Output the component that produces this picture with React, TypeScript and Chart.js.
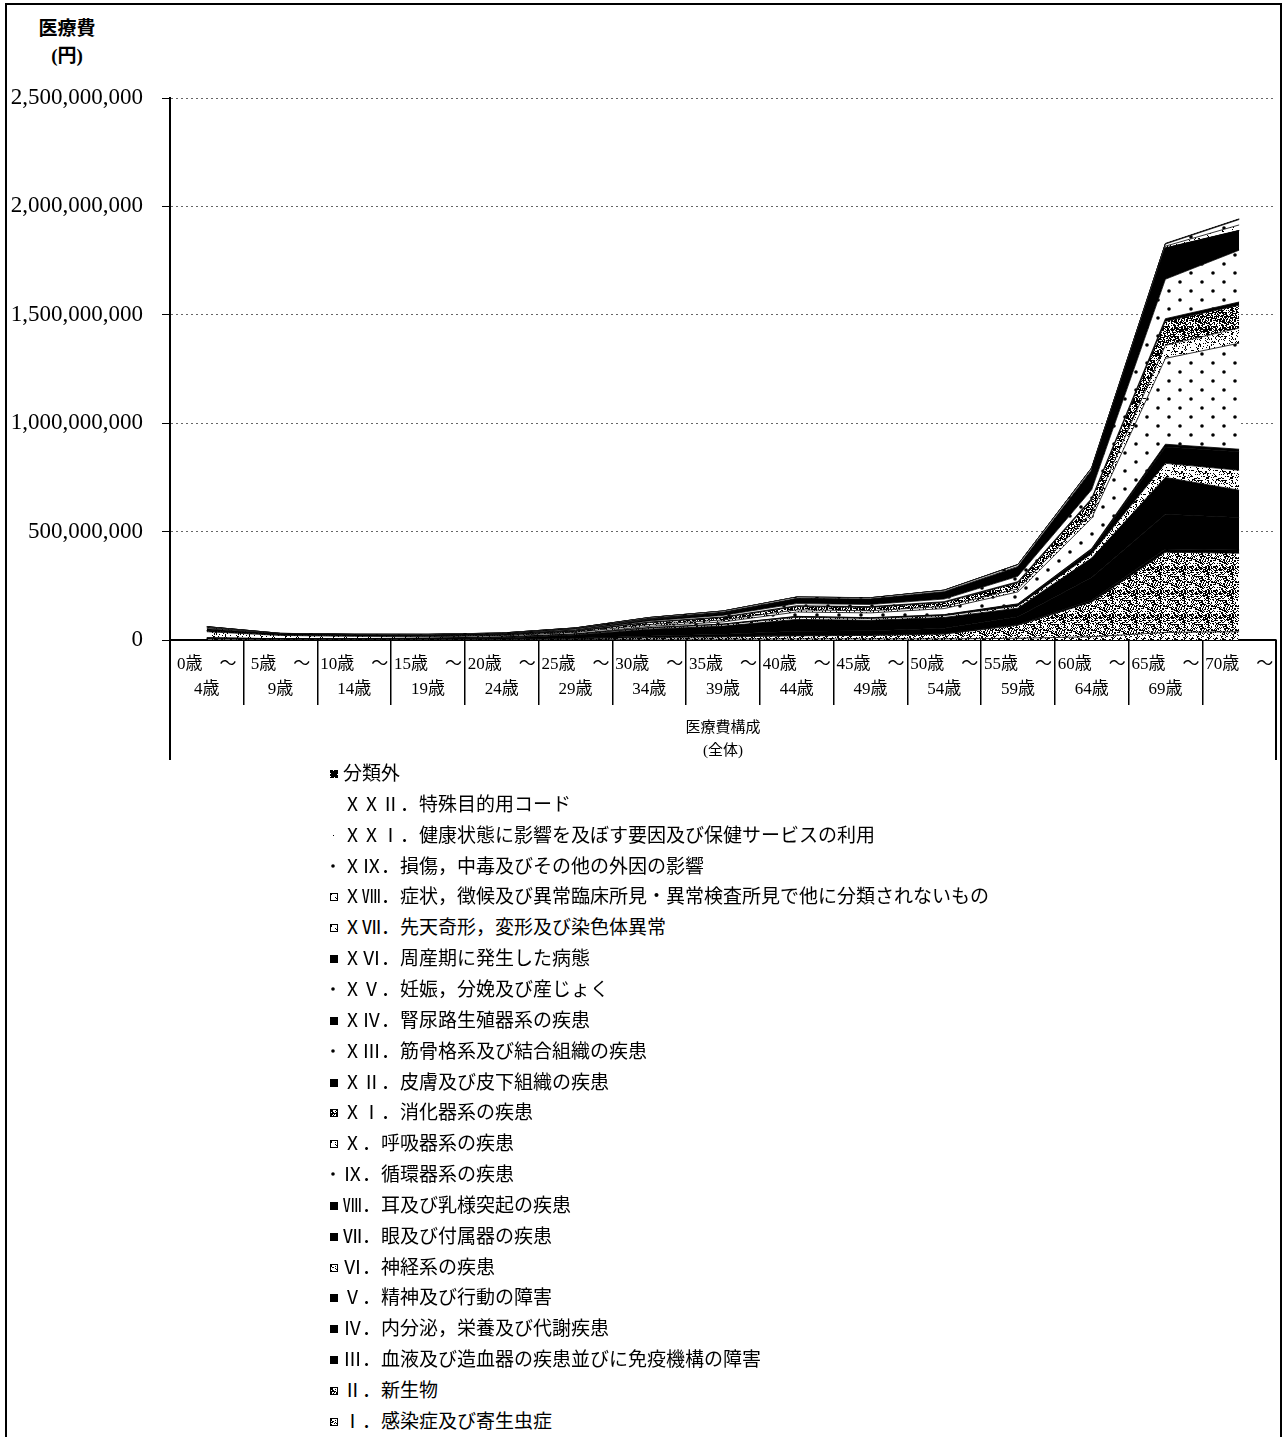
import React, { useEffect, useRef } from 'react';
import { Chart, registerables } from 'chart.js';

Chart.register(...registerables);

// ---- categories ----
const ageGroups: string[][] = [
  ['0歳　～', '4歳'],
  ['5歳　～', '9歳'],
  ['10歳　～', '14歳'],
  ['15歳　～', '19歳'],
  ['20歳　～', '24歳'],
  ['25歳　～', '29歳'],
  ['30歳　～', '34歳'],
  ['35歳　～', '39歳'],
  ['40歳　～', '44歳'],
  ['45歳　～', '49歳'],
  ['50歳　～', '54歳'],
  ['55歳　～', '59歳'],
  ['60歳　～', '64歳'],
  ['65歳　～', '69歳'],
  ['70歳　～'],
];

// ---- series values (百万円), bottom of stack first ----
const sI = [4, 2, 1.5, 1, 1.5, 2, 4, 4, 5, 5, 5, 8, 15, 35, 38];
const sII = [2, 1, 1, 1, 2, 4, 7, 10, 14, 16, 22, 60, 160, 370, 362];
const sIII = [0.5, 0.3, 0.3, 0.3, 0.3, 0.5, 1, 2, 3, 2, 2, 4, 8, 15, 15];
const sIV = [0.5, 0.5, 0.5, 0.5, 1, 2, 6, 10, 18, 20, 25, 35, 105, 160, 150];
const sV = [0.2, 0.5, 1.5, 2.5, 5, 14, 32, 38, 55, 48, 50, 40, 90, 170, 126];
const sVI = [1, 0.5, 1, 2, 2, 3, 5, 7, 10, 8, 8, 10, 20, 65, 92];
const sVII = [1, 0.5, 0.5, 0.4, 0.5, 0.8, 1.5, 2, 3, 3, 4, 8, 20, 75, 85];
const sVIII = [0.5, 0.5, 0.3, 0.2, 0.2, 0.3, 0.5, 0.5, 1, 1, 1, 2, 4, 13, 12];
const sIX = [0.5, 0.3, 0.3, 0.5, 1, 2, 6, 10, 20, 22, 28, 55, 140, 396, 489];
const sX = [28, 15, 10, 7, 5, 6, 8, 9, 10, 10, 10, 14, 25, 60, 70];
const sXI = [3, 1.5, 1.5, 2, 3, 5, 9, 11, 15, 15, 18, 28, 60, 111, 105];
const sXII = [2, 1.5, 1.5, 1.5, 1.5, 2, 3, 3, 4, 4, 4, 5, 6, 12, 15];
const sXIII = [0.3, 0.5, 1, 1.5, 1.5, 2.5, 5, 7, 10, 10, 12, 25, 40, 182, 239];
const sXIV = [0.5, 0.5, 0.5, 0.5, 1, 2.5, 6, 10, 20, 22, 30, 40, 85, 143, 90];
const sXV = [0, 0, 0, 0.2, 2, 4, 3, 1.5, 0.3, 0.1, 0, 0, 0, 0, 0];
const sXVI = [8, 0.3, 0, 0, 0, 0, 0, 0, 0, 0, 0, 0, 0, 0, 0];
const sXVII = [4, 1.5, 1, 0.5, 0.5, 0.5, 0.5, 0.5, 0.5, 0.5, 0.5, 0.5, 1, 1.5, 1.5];
const sXVIII = [2, 1, 1, 1, 1, 1.5, 2, 3, 3, 3, 4, 5, 6, 8, 25];
const sXIX = [3, 2.5, 3, 3.5, 3, 3, 4, 5, 6, 5, 6, 8, 8, 10, 25];
const sXXI = [0.5, 0.2, 0.2, 0.2, 0.2, 0.2, 0.2, 0.2, 0.3, 0.3, 0.3, 0.4, 0.5, 0.8, 1];
const sXXII = [0, 0, 0, 0, 0, 0, 0, 0, 0, 0, 0, 0, 0, 0, 0];
const sOther = [0.2, 0.1, 0.1, 0.1, 0.1, 0.1, 0.2, 0.2, 0.3, 0.3, 0.3, 0.5, 1, 2, 2];

const seriesLabels = [
  'Ⅰ．感染症及び寄生虫症',
  'Ⅱ．新生物',
  'Ⅲ．血液及び造血器の疾患並びに免疫機構の障害',
  'Ⅳ．内分泌，栄養及び代謝疾患',
  'Ⅴ．精神及び行動の障害',
  'Ⅵ．神経系の疾患',
  'Ⅶ．眼及び付属器の疾患',
  'Ⅷ．耳及び乳様突起の疾患',
  'Ⅸ．循環器系の疾患',
  'Ⅹ．呼吸器系の疾患',
  'ⅩⅠ．消化器系の疾患',
  'ⅩⅡ．皮膚及び皮下組織の疾患',
  'ⅩⅢ．筋骨格系及び結合組織の疾患',
  'ⅩⅣ．腎尿路生殖器系の疾患',
  'ⅩⅤ．妊娠，分娩及び産じょく',
  'ⅩⅥ．周産期に発生した病態',
  'ⅩⅦ．先天奇形，変形及び染色体異常',
  'ⅩⅧ．症状，徴候及び異常臨床所見・異常検査所見で他に分類されないもの',
  'ⅩⅨ．損傷，中毒及びその他の外因の影響',
  'ⅩⅩⅠ．健康状態に影響を及ぼす要因及び保健サービスの利用',
  'ⅩⅩⅡ．特殊目的用コード',
  '分類外',
];

const seriesValues = [
  sI, sII, sIII, sIV, sV, sVI, sVII, sVIII, sIX, sX, sXI,
  sXII, sXIII, sXIV, sXV, sXVI, sXVII, sXVIII, sXIX, sXXI, sXXII, sOther,
];

// ---- styles (separate from data) ----
const seriesPatterns = [
  'speckle35', 'speckle48', 'black', 'black', 'black', 'speckle25', 'black', 'black',
  'dots', 'speckle22', 'speckle62', 'black', 'dots', 'black', 'dots', 'black',
  'speckle12', 'speckle10', 'dots', 'sparse', 'white', 'dense',
];
const seriesOutline = [
  true, true, false, false, false, true, false, false,
  false, true, true, false, false, false, false, false,
  true, true, false, false, false, false,
];

const serif = '"Liberation Serif", "Noto Sans CJK JP", serif';
const cjk = '"Liberation Serif", "Noto Sans CJK JP", sans-serif';

function hash(x: number, y: number): number {
  let h = Math.imul(x, 374761393) + Math.imul(y, 668265263);
  h = Math.imul(h ^ (h >>> 13), 1274126177);
  h ^= h >>> 16;
  return (h >>> 0) % 1000;
}

function makeFill(kind: string): string | CanvasPattern {
  if (kind === 'black') return '#000';
  if (kind === 'white') return '#fff';
  const w = kind === 'dots' ? 22 : 24;
  const h = kind === 'dots' ? 18 : 24;
  const c = document.createElement('canvas');
  c.width = w;
  c.height = h;
  const g = c.getContext('2d')!;
  g.fillStyle = '#fff';
  g.fillRect(0, 0, w, h);
  g.fillStyle = '#000';
  if (kind === 'dots') {
    g.beginPath();
    g.arc(3, 3, 1.8, 0, Math.PI * 2);
    g.closePath();
    g.moveTo(14, 12);
    g.arc(14, 12, 1.8, 0, Math.PI * 2);
    g.fill();
  } else if (kind === 'sparse') {
    g.fillRect(3, 3, 1, 1);
    g.fillRect(15, 15, 1, 1);
  } else {
    let d = 500;
    if (kind === 'dense') d = 900;
    else if (kind.startsWith('speckle')) d = parseInt(kind.slice(7), 10) * 10;
    for (let y = 0; y < h; y++) {
      for (let x = 0; x < w; x++) {
        if (hash(x + 7, y + 3) < d) g.fillRect(x, y, 1, 1);
      }
    }
  }
  return g.createPattern(c, 'repeat')!;
}

export default function App() {
  const canvasRef = useRef<HTMLCanvasElement>(null);
  const swatchRefs = useRef<(HTMLCanvasElement | null)[]>([]);

  useEffect(() => {
    const canvas = canvasRef.current;
    if (!canvas) return;
    const fills = seriesPatterns.map(makeFill);
    const datasets = seriesValues.map((vals, i) => ({
      label: seriesLabels[i],
      data: vals.map((v) => v * 1e6),
      backgroundColor: fills[i] as any,
      borderColor: '#000',
      borderWidth: 0.8,
      fill: i === 0 ? 'origin' : '-1',
      pointRadius: 0,
      tension: 0,
    }));

    const extraLines = {
      id: 'extraLines',
      afterDraw(chart: any) {
        const { ctx, chartArea } = chart;
        ctx.save();
        ctx.strokeStyle = '#000';
        ctx.lineWidth = 2;
        ctx.beginPath();
        ctx.moveTo(chartArea.left, chartArea.bottom);
        ctx.lineTo(chartArea.left, chart.height - 20);
        ctx.moveTo(chartArea.right, chartArea.bottom);
        ctx.lineTo(chartArea.right, chart.height - 20);
        ctx.stroke();
        ctx.restore();
      },
    };

    const chart = new Chart(canvas, {
      type: 'line',
      data: { labels: ageGroups as any, datasets: datasets as any },
      options: {
        animation: false,
        responsive: false,
        events: [],
        layout: { padding: { left: 0, right: 8, top: 98, bottom: 0 } },
        plugins: {
          legend: { display: false },
          tooltip: { enabled: false },
        },
        elements: { point: { radius: 0 }, line: { tension: 0 } },
        scales: {
          x: {
            offset: true,
            grid: {
              offset: true,
              drawOnChartArea: false,
              tickLength: 65,
              color: '#000',
              lineWidth: 1.5,
            },
            border: { color: '#000', width: 2 },
            ticks: {
              autoSkip: false,
              maxRotation: 0,
              minRotation: 0,
              padding: -52.5,
              color: '#000',
              font: { family: serif, size: 17, lineHeight: 1.47 },
            },
            title: {
              display: true,
              text: ['医療費構成', '(全体)'],
              color: '#000',
              font: { family: cjk, size: 15, weight: 'normal', lineHeight: 1.55 },
              padding: { top: 0, bottom: 17.5 },
            },
            afterFit: (s: any) => {
              s.height = 140;
            },
          } as any,
          y: {
            stacked: true,
            min: 0,
            max: 2500000000,
            ticks: {
              stepSize: 500000000,
              padding: 19,
              color: '#000',
              font: { family: serif, size: 23 },
              callback: (v: any) => Number(v).toLocaleString('en-US'),
            },
            grid: {
              color: '#666',
              tickColor: '#000',
              tickLength: 8,
              lineWidth: 1,
            },
            border: { color: '#000', width: 2, dash: [2, 3] },
            afterFit: (s: any) => {
              s.width = 170;
            },
          } as any,
        },
      },
      plugins: [extraLines],
    });

    swatchRefs.current.forEach((c, row) => {
      if (!c) return;
      const idx = seriesLabels.length - 1 - row;
      const g = c.getContext('2d')!;
      g.clearRect(0, 0, c.width, c.height);
      g.fillStyle = fills[idx] as any;
      if (seriesPatterns[idx] !== 'white') g.fillRect(0, 0, c.width, c.height);
      if (seriesOutline[idx]) {
        g.strokeStyle = '#000';
        g.lineWidth = 1;
        g.strokeRect(0.5, 0.5, c.width - 1, c.height - 1);
      }
    });

    return () => chart.destroy();
  }, []);

  const legendRows = seriesLabels.map((_, r) => seriesLabels[seriesLabels.length - 1 - r]);

  return (
    <div
      style={{
        position: 'absolute',
        left: 0,
        top: 0,
        width: 1284,
        height: 1437,
        background: '#fff',
        overflow: 'hidden',
      }}
    >
      <div
        style={{
          position: 'absolute',
          left: 5,
          top: 3,
          width: 1277,
          height: 1450,
          border: '2px solid #000',
          boxSizing: 'border-box',
        }}
      />
      <div
        style={{
          position: 'absolute',
          left: 28,
          top: 15,
          width: 78,
          textAlign: 'center',
          fontSize: 19,
          fontWeight: 'bold',
          lineHeight: '27px',
          fontFamily: cjk,
          color: '#000',
        }}
      >
        医療費
        <br />
        (円)
      </div>
      <canvas
        ref={canvasRef}
        width={1284}
        height={780}
        style={{ position: 'absolute', left: 0, top: 0, width: 1284, height: 780 }}
      />
      {legendRows.map((label, r) => (
        <div
          key={r}
          style={{
            position: 'absolute',
            left: 330,
            top: 774 + r * 30.85 - 15,
            height: 30,
            display: 'flex',
            alignItems: 'center',
            whiteSpace: 'nowrap',
          }}
        >
          <canvas
            ref={(el) => {
              swatchRefs.current[r] = el;
            }}
            width={8}
            height={8}
            style={{ width: 8, height: 8, marginRight: 5 }}
          />
          <span style={{ fontSize: 19, fontFamily: cjk, color: '#000', lineHeight: '30px' }}>{label}</span>
        </div>
      ))}
    </div>
  );
}
